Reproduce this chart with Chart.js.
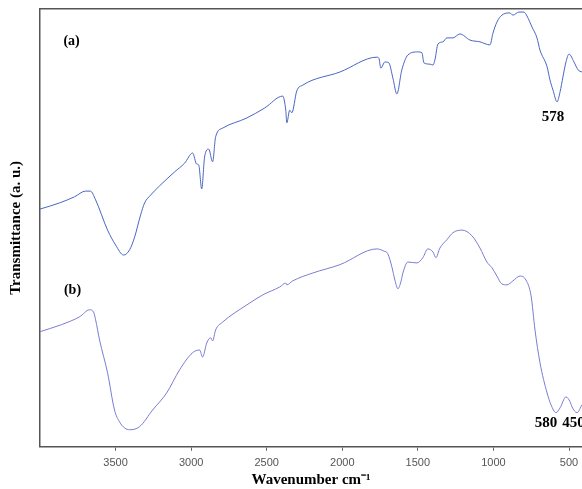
<!DOCTYPE html>
<html>
<head>
<meta charset="utf-8">
<script src="https://cdn.jsdelivr.net/npm/chart.js@4/dist/chart.umd.min.js"></script>
<style>
  html, body { margin: 0; padding: 0; background: #fff; overflow: hidden; }
  #wrap { width: 582px; height: 489px; }
</style>
</head>
<body>
<div id="wrap"><canvas id="id_ftir"></canvas></div>
<script>
// spectrum (a)
var wnA = [4000, 3871, 3772, 3699, 3666, 3632, 3553, 3500, 3447, 3407, 3374, 3334, 3308, 3268, 3209, 3109,
    3043, 2990, 2964, 2950, 2930, 2911, 2884, 2858, 2838, 2791, 2632, 2513, 2394, 2374, 2367, 2348, 2334,
    2301, 2262, 2016, 1771, 1758, 1745, 1718, 1692, 1665, 1639, 1606, 1566, 1500, 1473, 1460, 1420, 1400,
    1387, 1367, 1334, 1308, 1268, 1222, 1155, 1089, 1023, 1003, 977, 944, 891, 871, 831, 798, 778, 745,
    712, 692, 645, 626, 606, 579, 559, 540, 520, 500, 467, 440, 414];
var tA = [54.3, 55.7, 57.1, 58.4, 58.4, 56.4, 49.5, 46.1, 43.8, 45.0, 47.9, 53.0, 55.7, 57.5, 59.6, 62.8,
    64.8, 67.1, 64.6, 64.4, 58.9, 66.2, 68.0, 65.1, 70.8, 72.8, 75.1, 77.4, 80.1, 76.9, 74.0, 76.9, 76.3,
    81.3, 82.6, 85.6, 89.0, 88.8, 86.5, 87.9, 87.7, 84.2, 80.6, 86.1, 89.5, 90.2, 90.0, 87.7, 87.4, 87.2,
    88.4, 92.0, 92.5, 93.4, 93.4, 94.3, 92.9, 92.5, 91.8, 94.5, 97.0, 98.6, 99.1, 98.6, 99.3, 99.3, 98.4,
    95.9, 93.4, 90.6, 86.8, 83.8, 81.5, 78.8, 81.1, 84.5, 87.9, 89.7, 87.9, 86.1, 85.6];

// spectrum (b)
var wnB = [4000, 3858, 3738, 3672, 3646, 3632, 3606, 3553, 3507, 3474, 3440, 3407, 3341, 3255, 3162, 3076,
    2990, 2944, 2924, 2897, 2871, 2858, 2838, 2791, 2632, 2526, 2414, 2374, 2367, 2328, 2195, 2016, 1771,
    1725, 1699, 1672, 1652, 1632, 1612, 1599, 1566, 1506, 1467, 1434, 1400, 1381, 1354, 1308, 1268, 1208,
    1142, 1089, 1043, 1010, 977, 944, 910, 871, 824, 785, 751, 725, 692, 645, 619, 586, 559, 520, 493,
    480, 447, 414];
var tB = [26.3, 27.9, 29.7, 31.3, 30.8, 29.0, 24.4, 16.9, 8.4, 5.7, 4.3, 3.9, 4.6, 8.4, 12.3, 17.6,
    21.5, 22.1, 20.5, 23.7, 24.9, 24.2, 26.7, 28.5, 32.4, 34.7, 36.5, 37.4, 37.0, 37.9, 39.7, 41.6, 45.2,
    44.7, 44.1, 41.1, 38.1, 36.1, 37.7, 39.7, 42.2, 42.0, 43.2, 45.2, 44.5, 43.2, 45.4, 47.3, 48.9, 49.5,
    48.2, 45.4, 42.2, 40.9, 39.0, 37.2, 37.0, 37.9, 39.0, 38.1, 34.5, 26.7, 19.2, 12.3, 9.6, 7.8, 8.9,
    11.4, 10.3, 9.1, 7.8, 9.6];

var xTicks = [3500, 3000, 2500, 2000, 1500, 1000, 500];

// peak labels: text, wavenumber, transmittance
var noteText = ['(a)', '(b)', '578', '580', '450'];
var noteWn = [3791, 3785, 606, 652, 470];
var noteT = [92.5, 35.8, 75.3, 5.5, 5.5];
var noteSize = [14, 14, 15, 15, 15];

var toPoints = function(xs, ys) {
    var out = [];
    for (var i = 0; i < xs.length; i++) out.push({x: xs[i], y: ys[i]});
    return out;
};

var notesPlugin = {
    id: 'notes',
    afterDatasetsDraw: function(chart) {
        var ctx = chart.ctx;
        var xs = chart.scales.x, ys = chart.scales.y;
        ctx.save();
        ctx.fillStyle = '#000';
        ctx.textAlign = 'center';
        ctx.textBaseline = 'middle';
        for (var i = 0; i < noteText.length; i++) {
            ctx.font = 'bold ' + noteSize[i] + 'px "Liberation Serif", "Times New Roman", serif';
            ctx.fillText(noteText[i], xs.getPixelForValue(noteWn[i]), ys.getPixelForValue(noteT[i]));
        }
        ctx.restore();
    }
};

var ctx = document.getElementById('id_ftir').getContext('2d');
var ftirChart = new Chart(ctx, {
    type: 'line',
    data: {
        datasets: [{
            label: '(a)',
            data: toPoints(wnA, tA),
            borderColor: '#4a66c2',
            borderWidth: 1,
            pointRadius: 0,
            cubicInterpolationMode: 'monotone',
            fill: false
        }, {
            label: '(b)',
            data: toPoints(wnB, tB),
            borderColor: '#7a7cd4',
            borderWidth: 1,
            pointRadius: 0,
            cubicInterpolationMode: 'monotone',
            fill: false
        }]
    },
    options: {
        responsive: true,
        maintainAspectRatio: false,
        animation: false,
        layout: { padding: { top: 9, right: 0, left: 0, bottom: 0 } },
        plugins: { legend: { display: false }, tooltip: { enabled: false } },
        scales: {
            x: {
                type: 'linear',
                position: 'bottom',
                reverse: true,
                min: 414,
                max: 4000,
                afterBuildTicks: function(scale) {
                    scale.ticks = xTicks.map(function(v) { return {value: v}; });
                },
                afterFit: function(scale) {
                    scale.paddingLeft = 0;
                    scale.paddingRight = 0;
                },
                grid: { drawOnChartArea: false, drawTicks: true, tickLength: 4, color: '#666' },
                border: { color: '#555', width: 1.5 },
                ticks: {
                    color: '#555',
                    padding: 6,
                    maxRotation: 0,
                    autoSkip: false,
                    callback: function(v) { return String(v); },
                    font: { family: '"Liberation Sans", Arial, sans-serif', size: 11 }
                },
                title: {
                    display: true,
                    text: 'Wavenumber cm\u207B\u00B9',
                    color: '#000',
                    padding: { top: -5, bottom: 0 },
                    font: { family: '"Liberation Serif", "Times New Roman", serif', size: 15, weight: 'bold' }
                }
            },
            xTop: {
                type: 'linear',
                position: 'top',
                min: 414,
                max: 4000,
                ticks: { display: false },
                grid: { display: false, drawTicks: false },
                border: { color: '#555', width: 1.5 }
            },
            y: {
                min: 0,
                max: 100,
                ticks: { display: false },
                grid: { display: false, drawTicks: false },
                border: { color: '#555', width: 1.5 },
                title: {
                    display: true,
                    text: 'Transmittance (a. u.)',
                    color: '#000',
                    padding: { top: 7, bottom: 15 },
                    font: { family: '"Liberation Serif", "Times New Roman", serif', size: 15, weight: 'bold' }
                }
            }
        }
    },
    plugins: [notesPlugin]
});
</script>
</body>
</html>
